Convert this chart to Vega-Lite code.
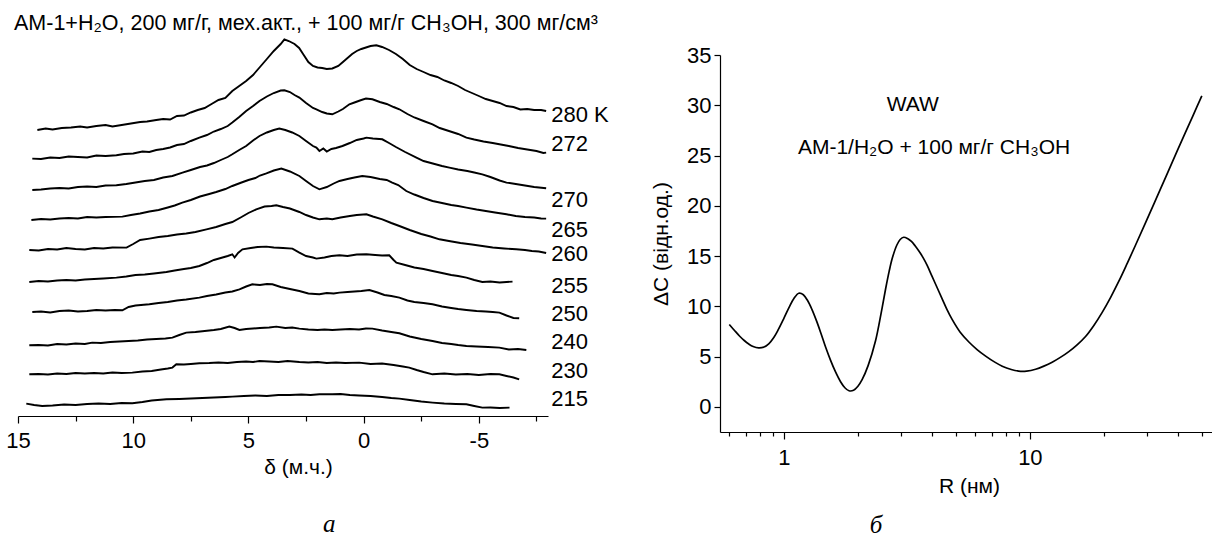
{
  "$schema": "https://vega.github.io/schema/vega-lite/v6.json",
  "padding": {"left": 5, "top": 13, "right": 0, "bottom": 0},
  "background": "white",
  "bounds": "flush",
  "spacing": 172,
  "config": {
    "view": {"stroke": null},
    "font": "Liberation Sans",
    "axis": {
      "domainColor": "#000", "tickColor": "#000", "labelColor": "#000", "titleColor": "#000",
      "labelFont": "Liberation Sans", "titleFont": "Liberation Sans", "titleFontWeight": "normal",
      "grid": false, "labelFontSize": 22, "titleFontSize": 21, "domainWidth": 1.2, "tickWidth": 1.2
    }
  },
  "datasets": {
    "spectra": [
      {"T":"280","d":14.16,"h":286},{"T":"280","d":13.8,"h":287.5},{"T":"280","d":13.5,"h":286.5},{"T":"280","d":13.1,"h":288},{"T":"280","d":12.7,"h":288.5},{"T":"280","d":12.3,"h":289.5},{"T":"280","d":12.0,"h":288.5},{"T":"280","d":11.6,"h":290},{"T":"280","d":11.2,"h":291},{"T":"280","d":10.9,"h":289.5},{"T":"280","d":10.5,"h":291},{"T":"280","d":10.1,"h":292.5},{"T":"280","d":9.7,"h":294},{"T":"280","d":9.4,"h":294.5},{"T":"280","d":9.0,"h":296},{"T":"280","d":8.7,"h":297},{"T":"280","d":8.4,"h":296.5},{"T":"280","d":8.1,"h":300},{"T":"280","d":7.8,"h":300.5},{"T":"280","d":7.5,"h":303.5},{"T":"280","d":7.2,"h":306},{"T":"280","d":6.9,"h":308},{"T":"280","d":6.6,"h":312},{"T":"280","d":6.3,"h":316},{"T":"280","d":6.0,"h":318},{"T":"280","d":5.7,"h":325},{"T":"280","d":5.4,"h":330},{"T":"280","d":5.1,"h":335},{"T":"280","d":4.8,"h":341},{"T":"280","d":4.5,"h":349},{"T":"280","d":4.2,"h":357},{"T":"280","d":3.9,"h":365},{"T":"280","d":3.6,"h":372},{"T":"280","d":3.44,"h":376.7},{"T":"280","d":3.25,"h":375},{"T":"280","d":3.0,"h":372},{"T":"280","d":2.8,"h":368},{"T":"280","d":2.6,"h":361},{"T":"280","d":2.4,"h":354},{"T":"280","d":2.2,"h":350},{"T":"280","d":2.0,"h":348.5},{"T":"280","d":1.8,"h":348},{"T":"280","d":1.6,"h":347},{"T":"280","d":1.36,"h":347.5},{"T":"280","d":1.1,"h":350},{"T":"280","d":0.9,"h":354},{"T":"280","d":0.7,"h":358},{"T":"280","d":0.5,"h":362},{"T":"280","d":0.3,"h":365},{"T":"280","d":0.1,"h":367},{"T":"280","d":-0.1,"h":368.5},{"T":"280","d":-0.3,"h":370},{"T":"280","d":-0.55,"h":370.7},{"T":"280","d":-0.8,"h":369},{"T":"280","d":-1.1,"h":366},{"T":"280","d":-1.4,"h":362},{"T":"280","d":-1.7,"h":357},{"T":"280","d":-2.0,"h":351},{"T":"280","d":-2.3,"h":347},{"T":"280","d":-2.6,"h":344},{"T":"280","d":-2.9,"h":341},{"T":"280","d":-3.2,"h":339},{"T":"280","d":-3.5,"h":335.5},{"T":"280","d":-3.8,"h":333},{"T":"280","d":-4.1,"h":330},{"T":"280","d":-4.4,"h":326},{"T":"280","d":-4.7,"h":323},{"T":"280","d":-5.0,"h":320},{"T":"280","d":-5.3,"h":317},{"T":"280","d":-5.6,"h":315},{"T":"280","d":-5.9,"h":313},{"T":"280","d":-6.2,"h":310},{"T":"280","d":-6.5,"h":309},{"T":"280","d":-6.8,"h":306.5},{"T":"280","d":-7.1,"h":307},{"T":"280","d":-7.4,"h":306},{"T":"280","d":-7.7,"h":306},{"T":"280","d":-7.92,"h":305},
      {"T":"272","d":14.38,"h":257.4},{"T":"272","d":14.0,"h":257},{"T":"272","d":13.6,"h":258.5},{"T":"272","d":13.2,"h":258},{"T":"272","d":12.8,"h":259.5},{"T":"272","d":12.4,"h":259},{"T":"272","d":12.0,"h":258.5},{"T":"272","d":11.6,"h":260.5},{"T":"272","d":11.2,"h":260},{"T":"272","d":10.73,"h":260.7},{"T":"272","d":10.4,"h":262},{"T":"272","d":10.0,"h":262.5},{"T":"272","d":9.6,"h":264.5},{"T":"272","d":9.3,"h":264},{"T":"272","d":9.0,"h":266},{"T":"272","d":8.7,"h":267},{"T":"272","d":8.4,"h":268.5},{"T":"272","d":8.1,"h":271},{"T":"272","d":7.8,"h":272},{"T":"272","d":7.5,"h":275},{"T":"272","d":7.13,"h":278.4},{"T":"272","d":6.8,"h":281},{"T":"272","d":6.5,"h":284.5},{"T":"272","d":6.2,"h":287},{"T":"272","d":5.9,"h":290},{"T":"272","d":5.7,"h":293.4},{"T":"272","d":5.4,"h":299},{"T":"272","d":5.1,"h":305},{"T":"272","d":4.8,"h":310},{"T":"272","d":4.52,"h":315},{"T":"272","d":4.2,"h":319.5},{"T":"272","d":3.9,"h":323},{"T":"272","d":3.6,"h":325.5},{"T":"272","d":3.44,"h":325.7},{"T":"272","d":3.2,"h":324},{"T":"272","d":3.0,"h":321},{"T":"272","d":2.79,"h":318.4},{"T":"272","d":2.5,"h":313},{"T":"272","d":2.2,"h":308},{"T":"272","d":2.05,"h":306.7},{"T":"272","d":1.8,"h":304},{"T":"272","d":1.6,"h":302.5},{"T":"272","d":1.36,"h":301.7},{"T":"272","d":1.1,"h":304.5},{"T":"272","d":0.9,"h":307},{"T":"272","d":0.62,"h":311.7},{"T":"272","d":0.4,"h":313.5},{"T":"272","d":0.1,"h":316},{"T":"272","d":-0.1,"h":317.5},{"T":"272","d":-0.38,"h":316.7},{"T":"272","d":-0.7,"h":314},{"T":"272","d":-1.0,"h":312},{"T":"272","d":-1.3,"h":309},{"T":"272","d":-1.55,"h":306.7},{"T":"272","d":-1.9,"h":302},{"T":"272","d":-2.2,"h":298.5},{"T":"272","d":-2.6,"h":295},{"T":"272","d":-2.99,"h":291.7},{"T":"272","d":-3.3,"h":288},{"T":"272","d":-3.7,"h":285},{"T":"272","d":-4.1,"h":282},{"T":"272","d":-4.46,"h":278.4},{"T":"272","d":-4.8,"h":276.5},{"T":"272","d":-5.2,"h":274.5},{"T":"272","d":-5.6,"h":273},{"T":"272","d":-5.89,"h":271.7},{"T":"272","d":-6.3,"h":270},{"T":"272","d":-6.7,"h":268},{"T":"272","d":-7.1,"h":266.5},{"T":"272","d":-7.5,"h":265},{"T":"272","d":-7.8,"h":263},{"T":"272","d":-7.92,"h":263.4},
      {"T":"270","d":14.38,"h":226},{"T":"270","d":14.0,"h":226.5},{"T":"270","d":13.6,"h":227.5},{"T":"270","d":13.2,"h":228},{"T":"270","d":12.8,"h":227.5},{"T":"270","d":12.4,"h":229},{"T":"270","d":12.0,"h":229.5},{"T":"270","d":11.6,"h":229},{"T":"270","d":11.2,"h":230.5},{"T":"270","d":10.73,"h":230.7},{"T":"270","d":10.3,"h":232},{"T":"270","d":9.9,"h":233.5},{"T":"270","d":9.5,"h":235},{"T":"270","d":9.1,"h":236},{"T":"270","d":8.7,"h":238.5},{"T":"270","d":8.3,"h":240},{"T":"270","d":7.86,"h":243.4},{"T":"270","d":7.5,"h":246},{"T":"270","d":7.1,"h":249},{"T":"270","d":6.8,"h":250.5},{"T":"270","d":6.5,"h":253},{"T":"270","d":6.2,"h":256},{"T":"270","d":5.9,"h":259},{"T":"270","d":5.7,"h":261.7},{"T":"270","d":5.4,"h":266},{"T":"270","d":5.1,"h":270},{"T":"270","d":4.8,"h":275.5},{"T":"270","d":4.52,"h":280},{"T":"270","d":4.2,"h":283.5},{"T":"270","d":3.9,"h":286},{"T":"270","d":3.66,"h":287.4},{"T":"270","d":3.4,"h":286},{"T":"270","d":3.1,"h":283.5},{"T":"270","d":2.79,"h":280},{"T":"270","d":2.5,"h":275},{"T":"270","d":2.2,"h":270},{"T":"270","d":2.05,"h":268.4},{"T":"270","d":1.92,"h":265},{"T":"270","d":1.75,"h":267.5},{"T":"270","d":1.6,"h":264.5},{"T":"270","d":1.4,"h":267},{"T":"270","d":1.2,"h":268},{"T":"270","d":0.92,"h":270},{"T":"270","d":0.6,"h":273},{"T":"270","d":0.3,"h":276},{"T":"270","d":0.0,"h":277.5},{"T":"270","d":-0.12,"h":278.4},{"T":"270","d":-0.4,"h":277.5},{"T":"270","d":-0.81,"h":276.7},{"T":"270","d":-1.1,"h":273},{"T":"270","d":-1.4,"h":269},{"T":"270","d":-1.8,"h":264},{"T":"270","d":-2.29,"h":258.4},{"T":"270","d":-2.6,"h":255},{"T":"270","d":-3.0,"h":252.5},{"T":"270","d":-3.4,"h":250},{"T":"270","d":-3.72,"h":248.4},{"T":"270","d":-4.1,"h":246.5},{"T":"270","d":-4.5,"h":245},{"T":"270","d":-4.8,"h":243.5},{"T":"270","d":-5.15,"h":241.7},{"T":"270","d":-5.5,"h":239},{"T":"270","d":-5.9,"h":235.5},{"T":"270","d":-6.2,"h":233.4},{"T":"270","d":-6.6,"h":232},{"T":"270","d":-7.0,"h":230.5},{"T":"270","d":-7.4,"h":229},{"T":"270","d":-7.92,"h":227.7},
      {"T":"265","d":14.42,"h":196},{"T":"265","d":14.0,"h":197},{"T":"265","d":13.6,"h":196.5},{"T":"265","d":13.2,"h":197.5},{"T":"265","d":12.8,"h":198},{"T":"265","d":12.4,"h":197.5},{"T":"265","d":12.0,"h":199},{"T":"265","d":11.6,"h":198.5},{"T":"265","d":11.2,"h":199},{"T":"265","d":10.47,"h":199.4},{"T":"265","d":10.1,"h":201},{"T":"265","d":9.7,"h":202.5},{"T":"265","d":9.3,"h":204.5},{"T":"265","d":8.9,"h":206},{"T":"265","d":8.5,"h":208.5},{"T":"265","d":8.2,"h":210.5},{"T":"265","d":7.87,"h":213.4},{"T":"265","d":7.5,"h":216},{"T":"265","d":7.1,"h":219.5},{"T":"265","d":6.7,"h":222},{"T":"265","d":6.4,"h":224},{"T":"265","d":6.0,"h":227},{"T":"265","d":5.7,"h":230},{"T":"265","d":5.3,"h":233.5},{"T":"265","d":5.0,"h":236},{"T":"265","d":4.7,"h":238},{"T":"265","d":4.5,"h":240.5},{"T":"265","d":4.22,"h":242.7},{"T":"265","d":3.9,"h":245.5},{"T":"265","d":3.57,"h":247.4},{"T":"265","d":3.2,"h":244.5},{"T":"265","d":2.79,"h":240},{"T":"265","d":2.5,"h":235},{"T":"265","d":2.2,"h":230},{"T":"265","d":1.92,"h":226.7},{"T":"265","d":1.6,"h":229},{"T":"265","d":1.3,"h":232.5},{"T":"265","d":1.05,"h":235},{"T":"265","d":0.7,"h":237},{"T":"265","d":0.4,"h":238.5},{"T":"265","d":0.06,"h":240},{"T":"265","d":-0.3,"h":239},{"T":"265","d":-0.7,"h":237},{"T":"265","d":-1.0,"h":236},{"T":"265","d":-1.24,"h":233.4},{"T":"265","d":-1.5,"h":231},{"T":"265","d":-1.85,"h":225},{"T":"265","d":-2.2,"h":221.5},{"T":"265","d":-2.6,"h":218},{"T":"265","d":-2.99,"h":215},{"T":"265","d":-3.4,"h":213},{"T":"265","d":-3.8,"h":211},{"T":"265","d":-4.1,"h":210},{"T":"265","d":-4.46,"h":208.4},{"T":"265","d":-4.9,"h":206.5},{"T":"265","d":-5.3,"h":205},{"T":"265","d":-5.7,"h":203.5},{"T":"265","d":-6.2,"h":201.7},{"T":"265","d":-6.6,"h":200},{"T":"265","d":-7.0,"h":199},{"T":"265","d":-7.4,"h":198.5},{"T":"265","d":-7.7,"h":197.5},{"T":"265","d":-7.92,"h":197.4},
      {"T":"260","d":14.51,"h":166},{"T":"260","d":14.1,"h":165.5},{"T":"260","d":13.7,"h":167},{"T":"260","d":13.3,"h":166.5},{"T":"260","d":12.9,"h":168},{"T":"260","d":12.5,"h":167},{"T":"260","d":12.1,"h":166.5},{"T":"260","d":11.7,"h":168},{"T":"260","d":11.3,"h":167.5},{"T":"260","d":10.9,"h":168.5},{"T":"260","d":10.29,"h":168.4},{"T":"260","d":10.0,"h":172},{"T":"260","d":9.7,"h":176},{"T":"260","d":9.3,"h":177.4},{"T":"260","d":8.9,"h":179},{"T":"260","d":8.5,"h":180},{"T":"260","d":8.1,"h":181.5},{"T":"260","d":7.7,"h":182.5},{"T":"260","d":7.3,"h":184},{"T":"260","d":6.82,"h":186.7},{"T":"260","d":6.4,"h":189},{"T":"260","d":6.0,"h":192},{"T":"260","d":5.7,"h":194},{"T":"260","d":5.3,"h":199},{"T":"260","d":5.0,"h":203},{"T":"260","d":4.66,"h":206.7},{"T":"260","d":4.3,"h":209.5},{"T":"260","d":4.0,"h":210},{"T":"260","d":3.79,"h":210.7},{"T":"260","d":3.5,"h":209},{"T":"260","d":3.2,"h":207.5},{"T":"260","d":2.79,"h":204},{"T":"260","d":2.5,"h":201},{"T":"260","d":2.2,"h":198.5},{"T":"260","d":1.92,"h":196.7},{"T":"260","d":1.6,"h":197.5},{"T":"260","d":1.36,"h":196.7},{"T":"260","d":1.0,"h":198.5},{"T":"260","d":0.6,"h":200},{"T":"260","d":0.3,"h":201},{"T":"260","d":-0.12,"h":201.7},{"T":"260","d":-0.4,"h":199.5},{"T":"260","d":-0.81,"h":196.7},{"T":"260","d":-1.2,"h":193},{"T":"260","d":-1.55,"h":190},{"T":"260","d":-2.0,"h":186},{"T":"260","d":-2.5,"h":182},{"T":"260","d":-2.9,"h":179.5},{"T":"260","d":-3.29,"h":176.7},{"T":"260","d":-3.7,"h":175},{"T":"260","d":-4.2,"h":173},{"T":"260","d":-4.7,"h":171.5},{"T":"260","d":-5.15,"h":170},{"T":"260","d":-5.6,"h":168.5},{"T":"260","d":-6.1,"h":167.5},{"T":"260","d":-6.62,"h":166.7},{"T":"260","d":-7.0,"h":166},{"T":"260","d":-7.3,"h":165},{"T":"260","d":-7.6,"h":164.5},{"T":"260","d":-7.92,"h":163},
      {"T":"255","d":14.51,"h":134},{"T":"255","d":14.1,"h":135},{"T":"255","d":13.7,"h":134.5},{"T":"255","d":13.3,"h":135.5},{"T":"255","d":12.9,"h":136},{"T":"255","d":12.5,"h":135.5},{"T":"255","d":12.1,"h":136.5},{"T":"255","d":11.7,"h":137},{"T":"255","d":11.3,"h":137.5},{"T":"255","d":10.73,"h":138.4},{"T":"255","d":10.3,"h":139.5},{"T":"255","d":9.9,"h":141},{"T":"255","d":9.5,"h":141.5},{"T":"255","d":9.1,"h":142.5},{"T":"255","d":8.56,"h":144},{"T":"255","d":8.2,"h":145.5},{"T":"255","d":7.8,"h":147},{"T":"255","d":7.5,"h":148},{"T":"255","d":7.13,"h":150},{"T":"255","d":6.8,"h":153},{"T":"255","d":6.5,"h":156},{"T":"255","d":6.2,"h":158},{"T":"255","d":5.9,"h":160},{"T":"255","d":5.7,"h":161.7},{"T":"255","d":5.6,"h":158.5},{"T":"255","d":5.45,"h":163},{"T":"255","d":5.26,"h":166.7},{"T":"255","d":4.9,"h":168},{"T":"255","d":4.6,"h":169},{"T":"255","d":4.22,"h":169.4},{"T":"255","d":3.9,"h":168.5},{"T":"255","d":3.5,"h":168},{"T":"255","d":3.09,"h":167.4},{"T":"255","d":2.79,"h":163.4},{"T":"255","d":2.5,"h":160},{"T":"255","d":2.2,"h":158.5},{"T":"255","d":2.05,"h":157.4},{"T":"255","d":1.7,"h":158.5},{"T":"255","d":1.4,"h":160},{"T":"255","d":1.05,"h":160.7},{"T":"255","d":0.7,"h":160},{"T":"255","d":0.3,"h":161.5},{"T":"255","d":-0.12,"h":161.7},{"T":"255","d":-0.5,"h":161},{"T":"255","d":-0.8,"h":160.5},{"T":"255","d":-1.11,"h":160.7},{"T":"255","d":-1.3,"h":156},{"T":"255","d":-1.42,"h":153.4},{"T":"255","d":-1.8,"h":151},{"T":"255","d":-2.2,"h":148.5},{"T":"255","d":-2.6,"h":147},{"T":"255","d":-2.99,"h":145},{"T":"255","d":-3.4,"h":143},{"T":"255","d":-3.8,"h":141},{"T":"255","d":-4.1,"h":140},{"T":"255","d":-4.46,"h":138.4},{"T":"255","d":-4.8,"h":136},{"T":"255","d":-5.15,"h":134},{"T":"255","d":-5.5,"h":134.5},{"T":"255","d":-5.9,"h":133.5},{"T":"255","d":-6.2,"h":134},{"T":"255","d":-6.46,"h":134.4},
      {"T":"250","d":14.38,"h":104},{"T":"250","d":14.0,"h":104.5},{"T":"250","d":13.6,"h":103.5},{"T":"250","d":13.2,"h":105},{"T":"250","d":12.8,"h":105.5},{"T":"250","d":12.4,"h":104.5},{"T":"250","d":12.0,"h":105},{"T":"250","d":11.6,"h":106},{"T":"250","d":11.2,"h":105.5},{"T":"250","d":10.8,"h":106},{"T":"250","d":10.47,"h":105.7},{"T":"250","d":10.2,"h":109},{"T":"250","d":9.9,"h":110.5},{"T":"250","d":9.3,"h":111.7},{"T":"250","d":8.9,"h":113},{"T":"250","d":8.5,"h":114},{"T":"250","d":8.1,"h":115.5},{"T":"250","d":7.7,"h":116.5},{"T":"250","d":7.13,"h":118.4},{"T":"250","d":6.8,"h":120},{"T":"250","d":6.4,"h":121.5},{"T":"250","d":6.0,"h":123.5},{"T":"250","d":5.7,"h":124.5},{"T":"250","d":5.39,"h":126.7},{"T":"250","d":5.1,"h":129.5},{"T":"250","d":4.83,"h":131.7},{"T":"250","d":4.5,"h":131},{"T":"250","d":4.2,"h":132},{"T":"250","d":3.96,"h":131.7},{"T":"250","d":3.6,"h":129},{"T":"250","d":3.2,"h":127},{"T":"250","d":2.79,"h":125},{"T":"250","d":2.4,"h":122.5},{"T":"250","d":2.1,"h":122},{"T":"250","d":1.92,"h":121.7},{"T":"250","d":1.6,"h":123},{"T":"250","d":1.3,"h":122.5},{"T":"250","d":1.05,"h":123.4},{"T":"250","d":0.7,"h":124},{"T":"250","d":0.4,"h":124.5},{"T":"250","d":0.1,"h":125},{"T":"250","d":-0.25,"h":126},{"T":"250","d":-0.6,"h":123.5},{"T":"250","d":-0.9,"h":121},{"T":"250","d":-1.2,"h":120},{"T":"250","d":-1.55,"h":118.4},{"T":"250","d":-1.9,"h":115.5},{"T":"250","d":-2.2,"h":114},{"T":"250","d":-2.6,"h":113},{"T":"250","d":-2.99,"h":111.7},{"T":"250","d":-3.4,"h":109.5},{"T":"250","d":-3.8,"h":108},{"T":"250","d":-4.1,"h":107},{"T":"250","d":-4.46,"h":106},{"T":"250","d":-4.9,"h":105},{"T":"250","d":-5.3,"h":104.5},{"T":"250","d":-5.6,"h":104},{"T":"250","d":-5.89,"h":103.4},{"T":"250","d":-6.2,"h":100.5},{"T":"250","d":-6.5,"h":98},{"T":"250","d":-6.75,"h":97.7},
      {"T":"240","d":14.51,"h":70.7},{"T":"240","d":14.1,"h":71},{"T":"240","d":13.7,"h":70.5},{"T":"240","d":13.3,"h":72},{"T":"240","d":12.9,"h":71.5},{"T":"240","d":12.5,"h":72.5},{"T":"240","d":12.1,"h":72},{"T":"240","d":11.78,"h":73.4},{"T":"240","d":11.4,"h":73},{"T":"240","d":11.0,"h":74},{"T":"240","d":10.6,"h":74.5},{"T":"240","d":10.2,"h":75},{"T":"240","d":9.8,"h":75.5},{"T":"240","d":9.4,"h":76.5},{"T":"240","d":9.0,"h":77},{"T":"240","d":8.6,"h":77.5},{"T":"240","d":8.3,"h":78.4},{"T":"240","d":8.0,"h":81},{"T":"240","d":7.7,"h":83.4},{"T":"240","d":7.3,"h":84},{"T":"240","d":6.9,"h":85},{"T":"240","d":6.5,"h":86},{"T":"240","d":6.2,"h":87},{"T":"240","d":5.83,"h":89.4},{"T":"240","d":5.6,"h":88},{"T":"240","d":5.39,"h":86},{"T":"240","d":5.1,"h":87},{"T":"240","d":4.8,"h":87.5},{"T":"240","d":4.5,"h":88},{"T":"240","d":4.1,"h":88.5},{"T":"240","d":3.79,"h":89.4},{"T":"240","d":3.4,"h":88},{"T":"240","d":3.1,"h":88.5},{"T":"240","d":2.79,"h":87.4},{"T":"240","d":2.4,"h":86.5},{"T":"240","d":2.0,"h":86},{"T":"240","d":1.7,"h":86.5},{"T":"240","d":1.36,"h":86},{"T":"240","d":1.0,"h":86.5},{"T":"240","d":0.6,"h":87},{"T":"240","d":0.2,"h":86.5},{"T":"240","d":-0.1,"h":87.5},{"T":"240","d":-0.38,"h":87.4},{"T":"240","d":-0.8,"h":85.5},{"T":"240","d":-1.2,"h":84},{"T":"240","d":-1.55,"h":82.7},{"T":"240","d":-2.0,"h":79.5},{"T":"240","d":-2.5,"h":77},{"T":"240","d":-2.99,"h":75},{"T":"240","d":-3.4,"h":73},{"T":"240","d":-3.8,"h":72},{"T":"240","d":-4.1,"h":71},{"T":"240","d":-4.46,"h":70},{"T":"240","d":-4.9,"h":69.5},{"T":"240","d":-5.4,"h":69},{"T":"240","d":-5.89,"h":68.4},{"T":"240","d":-6.3,"h":66.5},{"T":"240","d":-6.7,"h":67},{"T":"240","d":-7.06,"h":66},
      {"T":"230","d":14.51,"h":41.7},{"T":"230","d":14.1,"h":42},{"T":"230","d":13.7,"h":41.5},{"T":"230","d":13.3,"h":42.5},{"T":"230","d":12.9,"h":42},{"T":"230","d":12.5,"h":43},{"T":"230","d":12.1,"h":42.5},{"T":"230","d":11.7,"h":43},{"T":"230","d":11.3,"h":42.5},{"T":"230","d":10.9,"h":43.5},{"T":"230","d":10.5,"h":43},{"T":"230","d":10.04,"h":43.4},{"T":"230","d":9.6,"h":44.5},{"T":"230","d":9.2,"h":45},{"T":"230","d":8.8,"h":46.5},{"T":"230","d":8.5,"h":47.5},{"T":"230","d":8.3,"h":48.4},{"T":"230","d":8.13,"h":51.7},{"T":"230","d":7.8,"h":51.5},{"T":"230","d":7.5,"h":52},{"T":"230","d":7.13,"h":52.7},{"T":"230","d":6.7,"h":53},{"T":"230","d":6.3,"h":53.5},{"T":"230","d":5.9,"h":53},{"T":"230","d":5.5,"h":54},{"T":"230","d":5.1,"h":54.5},{"T":"230","d":4.8,"h":54},{"T":"230","d":4.52,"h":55},{"T":"230","d":4.1,"h":54.5},{"T":"230","d":3.7,"h":54},{"T":"230","d":3.3,"h":55},{"T":"230","d":2.79,"h":54},{"T":"230","d":2.4,"h":53.5},{"T":"230","d":2.0,"h":54},{"T":"230","d":1.6,"h":53},{"T":"230","d":1.2,"h":53.5},{"T":"230","d":0.8,"h":53},{"T":"230","d":0.19,"h":53.4},{"T":"230","d":-0.3,"h":52},{"T":"230","d":-0.8,"h":52.5},{"T":"230","d":-1.3,"h":51},{"T":"230","d":-1.7,"h":49.5},{"T":"230","d":-1.98,"h":48.4},{"T":"230","d":-2.3,"h":46},{"T":"230","d":-2.6,"h":44},{"T":"230","d":-2.99,"h":41.7},{"T":"230","d":-3.5,"h":42.5},{"T":"230","d":-4.0,"h":41.5},{"T":"230","d":-4.5,"h":42},{"T":"230","d":-5.0,"h":41},{"T":"230","d":-5.5,"h":42},{"T":"230","d":-5.89,"h":41.7},{"T":"230","d":-6.2,"h":40},{"T":"230","d":-6.5,"h":38.5},{"T":"230","d":-6.75,"h":36.7},
      {"T":"215","d":14.64,"h":12.4},{"T":"215","d":14.3,"h":11},{"T":"215","d":13.95,"h":10},{"T":"215","d":13.5,"h":10.5},{"T":"215","d":13.0,"h":11.5},{"T":"215","d":12.5,"h":11},{"T":"215","d":12.0,"h":12},{"T":"215","d":11.5,"h":12.5},{"T":"215","d":11.0,"h":12},{"T":"215","d":10.5,"h":13},{"T":"215","d":10.04,"h":12.7},{"T":"215","d":9.6,"h":14},{"T":"215","d":9.2,"h":15.5},{"T":"215","d":8.56,"h":16.7},{"T":"215","d":8.0,"h":17},{"T":"215","d":7.5,"h":17.5},{"T":"215","d":7.0,"h":18},{"T":"215","d":6.5,"h":18.5},{"T":"215","d":6.0,"h":19},{"T":"215","d":5.7,"h":19.4},{"T":"215","d":5.2,"h":20},{"T":"215","d":4.7,"h":20.5},{"T":"215","d":4.2,"h":20},{"T":"215","d":3.7,"h":21},{"T":"215","d":3.2,"h":21},{"T":"215","d":2.7,"h":21.5},{"T":"215","d":2.3,"h":21},{"T":"215","d":1.92,"h":21.7},{"T":"215","d":1.36,"h":21.7},{"T":"215","d":1.0,"h":22},{"T":"215","d":0.6,"h":21},{"T":"215","d":0.2,"h":20.5},{"T":"215","d":-0.3,"h":20},{"T":"215","d":-0.8,"h":19},{"T":"215","d":-1.2,"h":18},{"T":"215","d":-1.55,"h":17.4},{"T":"215","d":-2.0,"h":16},{"T":"215","d":-2.5,"h":14.5},{"T":"215","d":-2.99,"h":13.4},{"T":"215","d":-3.5,"h":12.5},{"T":"215","d":-4.0,"h":12},{"T":"215","d":-4.46,"h":11.7},{"T":"215","d":-4.8,"h":10},{"T":"215","d":-5.15,"h":8.4},{"T":"215","d":-5.5,"h":8.5},{"T":"215","d":-5.9,"h":8},{"T":"215","d":-6.33,"h":8.4}
    ],
    "labels": [
      {"t":"280 K","d":-8.14,"h":300.9},{"t":"272","d":-8.14,"h":272},{"t":"270","d":-8.14,"h":216.2},{"t":"265","d":-8.14,"h":186.2},{"t":"260","d":-8.14,"h":161.7},{"t":"255","d":-8.14,"h":130.5},{"t":"250","d":-8.14,"h":102.2},{"t":"240","d":-8.14,"h":73.9},{"t":"230","d":-8.14,"h":45.4},{"t":"215","d":-8.14,"h":17.2}
    ],
    "leftLetter": [{"t":"а","d":1.49,"h":-116.3}],
    "waw": [
      {"R":0.6,"C":8.2},{"R":0.63,"C":7.6},{"R":0.66,"C":7.05},{"R":0.69,"C":6.6},{"R":0.72,"C":6.25},{"R":0.75,"C":6.0},{"R":0.79,"C":5.87},{"R":0.83,"C":5.95},{"R":0.87,"C":6.3},{"R":0.91,"C":6.9},{"R":0.95,"C":7.7},{"R":1.0,"C":8.8},{"R":1.05,"C":9.9},{"R":1.1,"C":10.8},{"R":1.15,"C":11.3},{"R":1.2,"C":11.15},{"R":1.25,"C":10.55},{"R":1.3,"C":9.7},{"R":1.36,"C":8.5},{"R":1.42,"C":7.2},{"R":1.48,"C":5.9},{"R":1.55,"C":4.6},{"R":1.62,"C":3.5},{"R":1.7,"C":2.5},{"R":1.77,"C":1.9},{"R":1.84,"C":1.6},{"R":1.92,"C":1.65},{"R":2.0,"C":2.05},{"R":2.08,"C":2.7},{"R":2.2,"C":4.1},{"R":2.36,"C":6.6},{"R":2.48,"C":9.2},{"R":2.59,"C":11.7},{"R":2.68,"C":13.5},{"R":2.76,"C":14.8},{"R":2.88,"C":16.1},{"R":2.97,"C":16.65},{"R":3.07,"C":16.87},{"R":3.18,"C":16.75},{"R":3.3,"C":16.45},{"R":3.42,"C":16.0},{"R":3.55,"C":15.45},{"R":3.68,"C":14.85},{"R":3.82,"C":14.1},{"R":4.0,"C":13.0},{"R":4.2,"C":11.85},{"R":4.4,"C":10.75},{"R":4.6,"C":9.7},{"R":4.83,"C":8.7},{"R":5.2,"C":7.45},{"R":5.65,"C":6.45},{"R":6.1,"C":5.7},{"R":6.61,"C":5.05},{"R":7.2,"C":4.45},{"R":7.72,"C":4.05},{"R":8.4,"C":3.72},{"R":9.0,"C":3.56},{"R":9.7,"C":3.56},{"R":10.55,"C":3.74},{"R":11.4,"C":4.05},{"R":12.32,"C":4.44},{"R":13.3,"C":4.92},{"R":14.4,"C":5.5},{"R":15.6,"C":6.2},{"R":16.84,"C":7.0},{"R":18.2,"C":8.1},{"R":19.68,"C":9.4},{"R":21.3,"C":10.9},{"R":23,"C":12.5},{"R":24.9,"C":14.3},{"R":26.9,"C":16.1},{"R":30,"C":18.7},{"R":34,"C":21.7},{"R":38,"C":24.4},{"R":42.9,"C":27.3},{"R":46,"C":28.95},{"R":50,"C":30.94}
    ],
    "notes": [
      {"t":"WAW","R":3.34,"C":29.44},{"t":"АМ-1/H₂O + 100 мг/г CH₃OH","R":4.08,"C":25.17}
    ],
    "rightLetter": [{"t":"б","R":2.37,"C":-12.5}]
  },
  "hconcat": [
    {
      "width": 530,
      "height": 361,
      "title": {"text": "АМ-1+H₂O, 200 мг/г, мех.акт., + 100 мг/г CH₃OH, 300 мг/см³", "anchor": "start", "frame": "group", "fontSize": 21.5, "fontWeight": "normal", "font": "Liberation Sans", "color": "#000", "dx": -4, "offset": -16, "baseline": "alphabetic"},
      "layer": [
        {
          "data": {"name": "spectra"},
          "mark": {"type": "line", "color": "#000", "strokeWidth": 1.9},
          "encoding": {
            "x": {"field": "d", "type": "quantitative",
              "scale": {"domain": [-8, 15], "reverse": true, "nice": false, "zero": false},
              "axis": {
                "title": "δ (м.ч.)",
                "values": [15, 12.5, 10, 7.5, 5, 2.5, 0, -2.5, -5, -7.5],
                "labelExpr": "datum.value % 5 === 0 ? replace(datum.label, '−', '-') : ''",
                "tickSize": {"condition": {"test": "datum.value % 5 === 0", "value": 7}, "value": 5},
                "labelPadding": 7,
                "labelFlush": false,
                "labelOverlap": false,
                "titleX": 280,
                "titleY": 57,
                "titleBaseline": "alphabetic"
              }
            },
            "y": {"field": "h", "type": "quantitative", "scale": {"domain": [0, 361], "nice": false, "zero": false}, "axis": null},
            "detail": {"field": "T"}
          }
        },
        {
          "data": {"name": "labels"},
          "mark": {"type": "text", "align": "left", "baseline": "middle", "fontSize": 22, "font": "Liberation Sans", "color": "#000"},
          "encoding": {
            "x": {"field": "d", "type": "quantitative"},
            "y": {"field": "h", "type": "quantitative"},
            "text": {"field": "t"}
          }
        },
        {
          "data": {"name": "leftLetter"},
          "mark": {"type": "text", "align": "center", "baseline": "alphabetic", "fontSize": 25, "font": "Liberation Serif", "fontStyle": "italic", "color": "#000"},
          "encoding": {
            "x": {"field": "d", "type": "quantitative"},
            "y": {"field": "h", "type": "quantitative"},
            "text": {"field": "t"}
          }
        }
      ]
    },
    {
      "width": 492,
      "height": 377,
      "layer": [
        {
          "data": {"name": "waw"},
          "mark": {"type": "line", "color": "#000", "strokeWidth": 1.7, "interpolate": "catmull-rom"},
          "encoding": {
            "x": {"field": "R", "type": "quantitative",
              "scale": {"type": "log", "domain": [0.55, 55], "nice": false},
              "axis": {
                "title": "R (нм)",
                "values": [0.6, 0.7, 0.8, 0.9, 1, 2, 3, 4, 5, 6, 7, 8, 9, 10, 20, 30, 40, 50],
                "labelExpr": "datum.value === 1 ? '1' : (datum.value === 10 ? '10' : '')",
                "tickSize": {"condition": {"test": "datum.value === 1 || datum.value === 10", "value": 7}, "value": 4},
                "labelPadding": 8,
                "labelFlush": false,
                "labelOverlap": false,
                "titleX": 249,
                "titleY": 60,
                "titleBaseline": "alphabetic"
              }
            },
            "y": {"field": "C", "type": "quantitative",
              "scale": {"domain": [-2.5, 35], "nice": false, "zero": false},
              "axis": {
                "title": "ΔC (відн.од.)",
                "values": [0, 2.5, 5, 7.5, 10, 12.5, 15, 17.5, 20, 22.5, 25, 27.5, 30, 32.5, 35],
                "labelExpr": "datum.value % 5 === 0 ? datum.label : ''",
                "tickSize": {"condition": {"test": "datum.value % 5 === 0", "value": 6}, "value": 3.5},
                "labelPadding": 3,
                "labelFlush": false,
                "labelOverlap": false,
                "titleX": -59,
                "titleBaseline": "middle"
              }
            }
          }
        },
        {
          "data": {"name": "notes"},
          "mark": {"type": "text", "align": "center", "baseline": "alphabetic", "fontSize": 21, "font": "Liberation Sans", "color": "#000"},
          "encoding": {
            "x": {"field": "R", "type": "quantitative"},
            "y": {"field": "C", "type": "quantitative"},
            "text": {"field": "t"}
          }
        },
        {
          "data": {"name": "rightLetter"},
          "mark": {"type": "text", "align": "center", "baseline": "alphabetic", "fontSize": 25, "font": "Liberation Serif", "fontStyle": "italic", "color": "#000"},
          "encoding": {
            "x": {"field": "R", "type": "quantitative"},
            "y": {"field": "C", "type": "quantitative"},
            "text": {"field": "t"}
          }
        }
      ]
    }
  ]
}
